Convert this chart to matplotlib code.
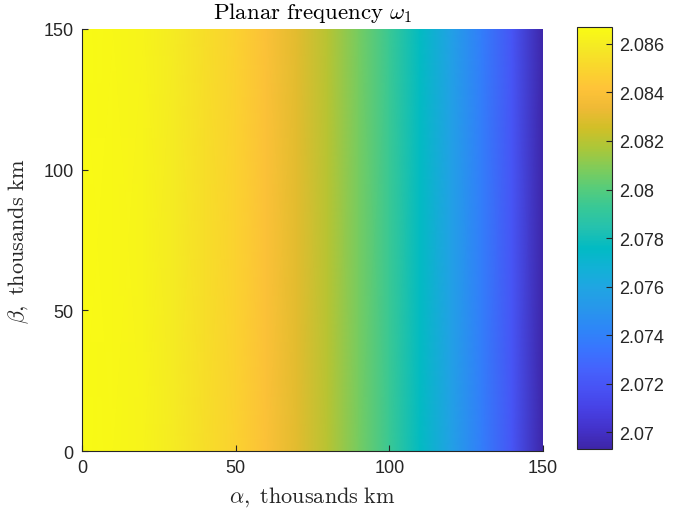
import numpy as np
import matplotlib
matplotlib.use("Agg")
import matplotlib.pyplot as plt
from matplotlib.colors import LinearSegmentedColormap
from matplotlib.ticker import FormatStrFormatter

# planar frequency along alpha (it doesn't change with beta)
alpha = [0, 10, 20, 30, 40, 50, 60, 70, 80, 90, 100, 110, 120, 130, 140, 150]
omega1 = [2.0867, 2.0865, 2.0863, 2.0859, 2.0854, 2.0848, 2.0840, 2.0830,
          2.0820, 2.0807, 2.0793, 2.0776, 2.0757, 2.0739, 2.0719, 2.0693]
beta = [0, 150]

x_ticks = [0, 50, 100, 150]
y_ticks = [0, 50, 100, 150]
cbar_ticks = [2.070, 2.072, 2.074, 2.076, 2.078, 2.080, 2.082, 2.084, 2.086]

# matlab parula (subset of the 64 entries)
parula = [
    (0.2422, 0.1504, 0.6603), (0.2647, 0.1978, 0.7952), (0.2783, 0.2559, 0.8991),
    (0.2810, 0.3228, 0.9579), (0.2699, 0.3892, 0.9906), (0.2206, 0.4603, 0.9973),
    (0.1786, 0.5289, 0.9682), (0.1540, 0.5902, 0.9218), (0.1248, 0.6459, 0.8883),
    (0.0689, 0.6948, 0.8394), (0.0067, 0.7312, 0.7660), (0.1408, 0.7584, 0.6842),
    (0.2161, 0.7843, 0.5923), (0.3406, 0.8008, 0.4789), (0.5044, 0.7993, 0.3480),
    (0.6720, 0.7793, 0.2227), (0.8203, 0.7498, 0.1535), (0.9393, 0.7288, 0.2100),
    (0.9970, 0.7659, 0.2199), (0.9786, 0.8386, 0.1766), (0.9597, 0.9135, 0.1423),
    (0.9769, 0.9839, 0.0805)]
cmap = LinearSegmentedColormap.from_list("parula", parula, N=256)

plt.rcParams['font.family'] = ['Liberation Sans', 'DejaVu Sans']
plt.rcParams['mathtext.fontset'] = 'cm'
grey = (0.15, 0.15, 0.15)

A, B = np.meshgrid(alpha, beta)
Z = np.tile(omega1, (len(beta), 1))

fig = plt.figure(figsize=(6.85, 5.10), dpi=100)
ax = fig.add_axes([0.1197, 0.1137, 0.6730, 0.8275])
mesh = ax.pcolormesh(A, B, Z, cmap=cmap, shading='gouraud',
                     vmin=min(omega1), vmax=max(omega1))
ax.set_xlim(0, 150)
ax.set_ylim(0, 150)
ax.set_xticks(x_ticks)
ax.set_yticks(y_ticks)
ax.tick_params(direction='in', length=4, labelsize=13, colors=grey, pad=6)
for s in ['top', 'right']:
    ax.spines[s].set_visible(False)
for s in ['left', 'bottom']:
    ax.spines[s].set_color(grey)
ax.set_xlabel(r'$\alpha\mathrm{,\ thousands\ km}$', fontsize=16, color=grey, labelpad=6)
ax.set_ylabel(r'$\beta\mathrm{,\ thousands\ km}$', fontsize=16, color=grey, labelpad=9)
ax.set_title(r'$\mathrm{Planar\ frequency\ }\omega_1$', fontsize=16.5, color='k', pad=8)

cax = fig.add_axes([0.8423, 0.1176, 0.0511, 0.8275])
cb = fig.colorbar(mesh, cax=cax, ticks=cbar_ticks)
cb.ax.yaxis.set_major_formatter(FormatStrFormatter('%g'))
cb.ax.tick_params(direction='in', length=4, labelsize=13, colors=grey, pad=5)
cb.outline.set_edgecolor(grey)

fig.savefig('out.png', dpi=100)
